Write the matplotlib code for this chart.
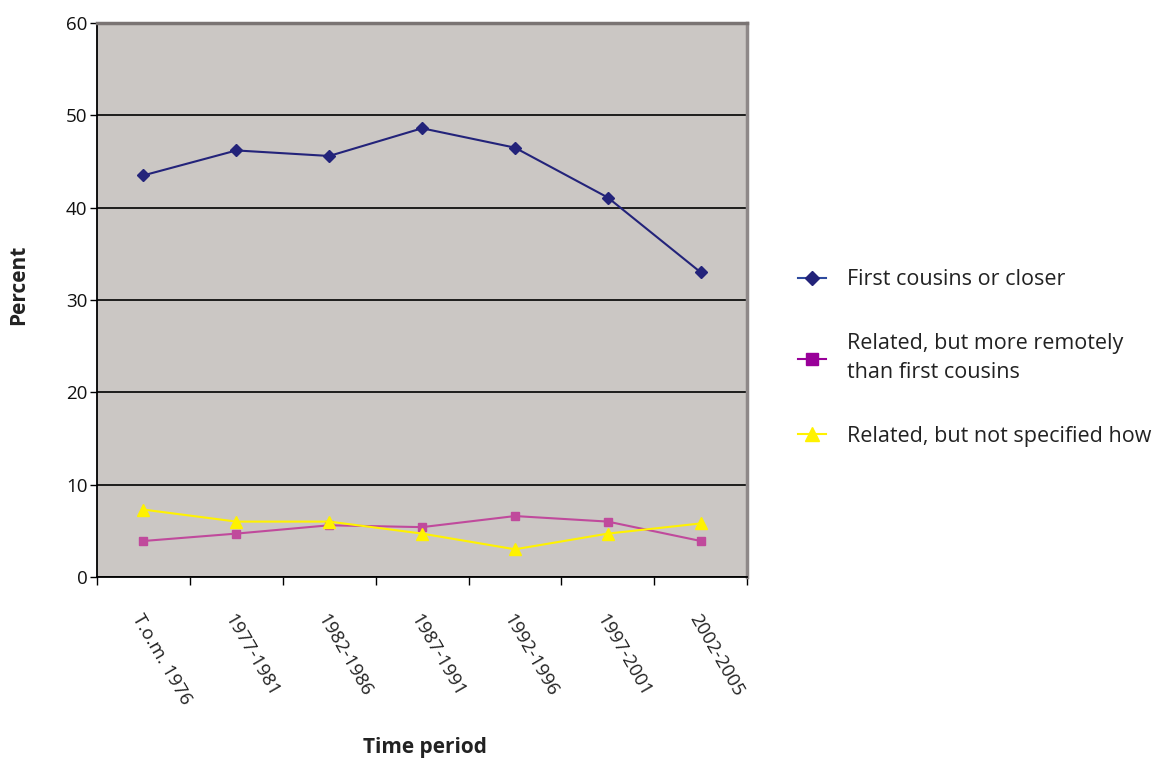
import matplotlib
matplotlib.use("Agg")
import matplotlib.pyplot as plt
from matplotlib.lines import Line2D

plt.rcParams['font.family'] = ['Open Sans', 'DejaVu Sans']

periods = ["T.o.m. 1976", "1977-1981", "1982-1986", "1987-1991",
           "1992-1996", "1997-2001", "2002-2005"]
first_cousins = [43.5, 46.2, 45.6, 48.6, 46.5, 41.1, 33.0]
remote_relatives = [3.9, 4.7, 5.6, 5.4, 6.6, 6.0, 3.9]
unspecified = [7.3, 6.0, 6.0, 4.7, 3.0, 4.7, 5.8]
series_labels = ["First cousins or closer",
                 "Related, but more remotely\nthan first cousins",
                 "Related, but not specified how"]

fig = plt.figure(figsize=(11.54, 7.6), dpi=100)
ax = fig.add_axes([0.0841, 0.2408, 0.5633, 0.7289])
ax.set_facecolor('#CBC7C4')

x = list(range(len(periods)))
ax.plot(x, first_cousins, color='#23237A', lw=1.5, marker='D', ms=6,
        markerfacecolor='#23237A', markeredgecolor='#23237A', zorder=3)
ax.plot(x, remote_relatives, color='#C04A9C', lw=1.5, marker='s', ms=6,
        markerfacecolor='#C04A9C', markeredgecolor='#C04A9C', zorder=3)
ax.plot(x, unspecified, color='#FFF200', lw=1.5, marker='^', ms=8,
        markerfacecolor='#FFF200', markeredgecolor='#FFF200', zorder=4)

ax.set_xlim(-0.5, len(periods) - 0.5)
ax.set_ylim(0, 60)
ax.set_yticks(range(0, 61, 10))
ax.tick_params(axis='y', labelsize=13.5, length=5, width=1, direction='out',
               pad=2, labelcolor='#111111')
ax.yaxis.grid(True, color='black', lw=1.2)
ax.set_axisbelow(True)

ax.set_xticks([i - 0.5 for i in range(len(periods) + 1)])
ax.set_xticklabels([])
ax.tick_params(axis='x', length=6, width=1, direction='out')
for i, lab in enumerate(periods):
    ax.text(i - 0.08, -4.2, lab, rotation=-60, rotation_mode='anchor',
            ha='left', va='center', fontsize=13.5, color='#222222')

for side in ('left', 'bottom'):
    ax.spines[side].set_color('black')
    ax.spines[side].set_linewidth(1.3)
ax.spines['top'].set_color('#7A7473')
ax.spines['top'].set_linewidth(2.5)
ax.spines['right'].set_color('#8E8888')
ax.spines['right'].set_linewidth(2.5)

fig.text(0.368, 0.0158, "Time period", ha='center', va='center',
         fontsize=15, fontweight='bold', color='#222222')
fig.text(0.016, 0.625, "Percent", ha='center', va='center', rotation=90,
         fontsize=15, fontweight='bold', color='#222222')

handles = [
    Line2D([], [], color='#2E4A9E', lw=1.5, marker='D', ms=7,
           markerfacecolor='#23237A', markeredgecolor='#23237A'),
    Line2D([], [], color='#990099', lw=1.5, marker='s', ms=8,
           markerfacecolor='#990099', markeredgecolor='#990099'),
    Line2D([], [], color='#FFF200', lw=1.5, marker='^', ms=10,
           markerfacecolor='#FFF200', markeredgecolor='#FFF200'),
]
leg = fig.legend(handles, series_labels, loc='upper left',
                 bbox_to_anchor=(0.675, 0.671), frameon=False, fontsize=15.5,
                 handlelength=1.3, handletextpad=0.95, labelspacing=2.0,
                 labelcolor='#222222')
for t in leg.get_texts():
    t.set_linespacing(1.45)

fig.savefig('out.png', dpi=100)
